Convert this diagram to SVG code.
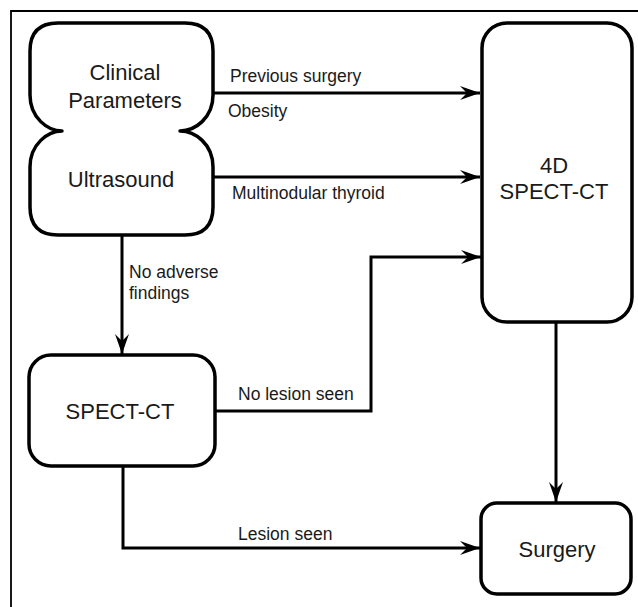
<svg xmlns="http://www.w3.org/2000/svg" width="638" height="607" viewBox="0 0 638 607">
<style>
.node{fill:#fff;stroke:#000;stroke-width:3.5;stroke-linejoin:round}
.conn{fill:none;stroke:#000;stroke-width:3;stroke-linejoin:miter}
.nt{font-family:"Liberation Sans",Arial,sans-serif;font-size:22px;fill:#1a1a1a;text-anchor:middle}
.lt{font-family:"Liberation Sans",Arial,sans-serif;font-size:17.5px;fill:#1a1a1a}
</style>
<defs>
<marker id="arr" markerUnits="userSpaceOnUse" markerWidth="22" markerHeight="16" viewBox="-21 -8 22 16" refX="0" refY="0" orient="auto">
<path d="M0,0 L-20,-7 L-13,0 L-20,7 Z" fill="#000"/>
</marker>
</defs>
<rect width="638" height="607" fill="#fff"/>
<path d="M11,607 V11 H638" fill="none" stroke="#000" stroke-width="1.8"/>
<g id="connectors">
<path class="conn" d="M213,93 H480" marker-end="url(#arr)"/>
<path class="conn" d="M213,177 H480" marker-end="url(#arr)"/>
<path class="conn" d="M122,235 V354" marker-end="url(#arr)"/>
<path class="conn" d="M215,411 H371 V257 H481" marker-end="url(#arr)"/>
<path class="conn" d="M123,466 V548 H480" marker-end="url(#arr)"/>
<path class="conn" d="M556,322 V502" marker-end="url(#arr)"/>
<text class="lt" x="230" y="82">Previous surgery</text>
<text class="lt" x="228" y="117">Obesity</text>
<text class="lt" x="232" y="199">Multinodular thyroid</text>
<text class="lt" x="129" y="278">No adverse</text>
<text class="lt" x="129" y="299">findings</text>
<text class="lt" x="238" y="400">No lesion seen</text>
<text class="lt" x="238" y="540">Lesion seen</text>
</g>
<g id="clinical-ultrasound">
<path class="node" d="M58,23 H185 Q213,23 213,51 V95 C213,118 195,131 180,131 C195,131 213,144 213,167 V207 Q213,235 185,235 H58 Q30,235 30,207 V167 C30,144 48,131 62,131 C48,131 30,118 30,95 V51 Q30,23 58,23 Z"/>
<text class="nt" x="125" y="80">Clinical</text>
<text class="nt" x="125" y="108">Parameters</text>
<text class="nt" x="121" y="187">Ultrasound</text>
</g>
<g id="spect4d">
<rect class="node" x="482" y="23" width="150" height="299" rx="25"/>
<text class="nt" x="554" y="173">4D</text>
<text class="nt" x="554" y="199">SPECT-CT</text>
</g>
<g id="spectct">
<rect class="node" x="29" y="355" width="186" height="111" rx="22"/>
<text class="nt" x="120" y="419">SPECT-CT</text>
</g>
<g id="surgery">
<rect class="node" x="481" y="503" width="150" height="91" rx="16"/>
<text class="nt" x="557" y="557">Surgery</text>
</g>
</svg>
